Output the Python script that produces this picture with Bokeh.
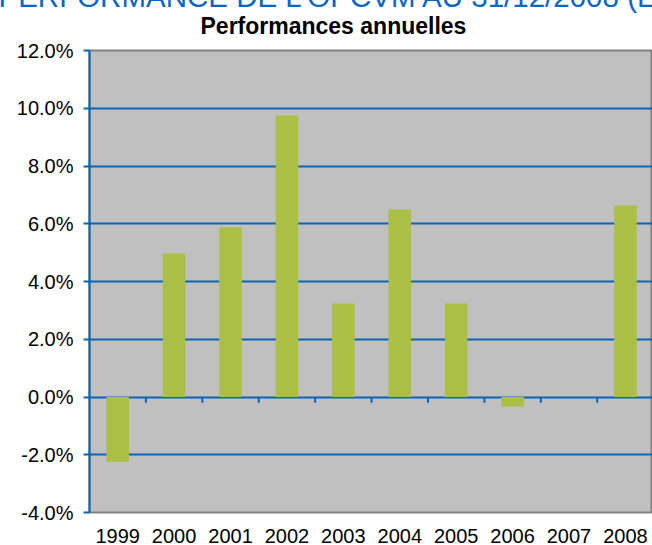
from bokeh.plotting import figure
from bokeh.models import Range1d, FixedTicker, PrintfTickFormatter, Title
from bokeh.embed import file_html
from bokeh.resources import INLINE

# ---- data ----
years = ["1999", "2000", "2001", "2002", "2003", "2004", "2005", "2006", "2007", "2008"]
perf = [-2.24, 4.97, 5.88, 9.75, 3.24, 6.49, 3.24, -0.33, 0.0, 6.63]
y_ticks = [-4, -2, 0, 2, 4, 6, 8, 10, 12]
chart_title = "Performances annuelles"
heading = "PERFORMANCE DE L'OPCVM AU 31/12/2008 (EN %)"

FONT = "Liberation Sans"
BLUE = "#0b63b5"

xs = list(range(1, len(years) + 1))
bounds = [i + 0.5 for i in xs[:-1]]

p = figure(frame_width=563, frame_height=462,
           x_range=Range1d(0.5, 10.48), y_range=Range1d(-4, 12),
           output_backend="svg", toolbar_location=None,
           min_border_left=89, min_border_right=0,
           min_border_top=0, min_border_bottom=33)
p.styles = {"margin-top": "-9px"}
p.background_fill_color = "#c0c0c0"
p.border_fill_color = "white"
p.outline_line_color = "#808080"
p.outline_line_width = 2

# page heading (the plot title is always the outermost panel), cut off at the top edge
p.title.text = heading
p.title.text_font = FONT
p.title.text_font_size = "29.5px"
p.title.text_font_style = "normal"
p.title.text_color = "#0a66c2"
p.title.align = "left"
p.title.offset = -91
p.title.standoff = -27
p.title.vertical_align = "bottom"

# chart title, between heading and frame
p.add_layout(Title(text=chart_title, text_font=FONT, text_font_size="23px",
                   text_font_style="bold", text_color="black",
                   align="left", offset=111, standoff=23,
                   vertical_align="bottom"), "above")

p.xgrid.visible = False
p.ygrid.ticker = FixedTicker(ticks=y_ticks)
p.ygrid.grid_line_color = BLUE
p.ygrid.grid_line_width = 2

ya = p.yaxis[0]
ya.ticker = FixedTicker(ticks=y_ticks)
ya.formatter = PrintfTickFormatter(format="%.1f%%")
ya.axis_line_color = BLUE
ya.axis_line_width = 2
ya.major_tick_line_color = BLUE
ya.major_tick_line_width = 2
ya.major_tick_out = 6
ya.major_tick_in = 0
ya.minor_tick_line_color = None
ya.major_label_text_font = FONT
ya.major_label_text_font_size = "20px"
ya.major_label_text_color = "black"
ya.major_label_standoff = 10

xa = p.xaxis[0]
xa.ticker = FixedTicker(ticks=xs)
xa.major_label_overrides = {i: y for i, y in zip(xs, years)}
xa.axis_line_color = None
xa.major_tick_line_color = None
xa.minor_tick_line_color = None
xa.major_label_text_font = FONT
xa.major_label_text_font_size = "20px"
xa.major_label_text_color = "black"
xa.major_label_standoff = 10

p.vbar(x=xs, top=perf, bottom=0, width=0.4, fill_color="#abbf45", line_color=None)
p.segment(x0=bounds, y0=0, x1=bounds, y1=-0.2, line_color=BLUE, line_width=2)

open("out.html", "w").write(file_html(p, INLINE))
